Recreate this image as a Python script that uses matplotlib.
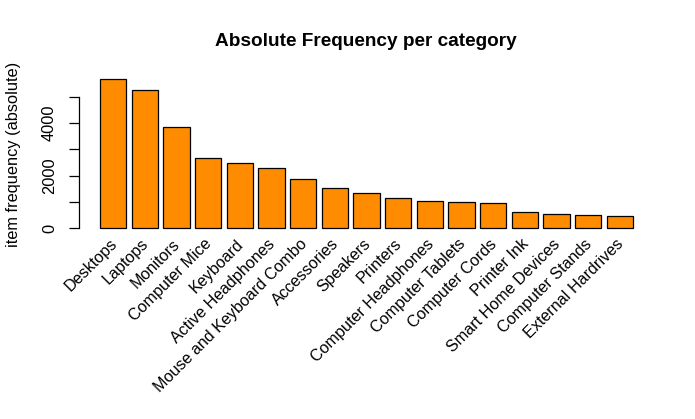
import matplotlib
matplotlib.use("Agg")
import matplotlib.pyplot as plt

categories = ["Desktops", "Laptops", "Monitors", "Computer Mice", "Keyboard",
              "Active Headphones", "Mouse and Keyboard Combo", "Accessories",
              "Speakers", "Printers", "Computer Headphones", "Computer Tablets",
              "Computer Cords", "Printer Ink", "Smart Home Devices",
              "Computer Stands", "External Hardrives"]
values = [5685, 5254, 3858, 2690, 2500, 2284, 1865, 1530, 1332, 1142,
          1041, 1015, 964, 622, 533, 495, 457]
ytick_values = [0, 1000, 2000, 3000, 4000, 5000]
ytick_labels = ["0", "", "2000", "", "4000", ""]

plt.rcParams['font.family'] = ['Liberation Sans', 'DejaVu Sans']

W, H = 695, 419
fig = plt.figure(figsize=(W / 100, H / 100), dpi=100)
left, right, top, bottom = 78.7, 654.3, 72.7, 235.8
ax = fig.add_axes([left / W, 1 - bottom / H, (right - left) / W, (bottom - top) / H])

n = len(values)
width, space = 1.0, 0.2
xs = [space + i * (width + space) + width / 2 for i in range(n)]
ax.bar(xs, values, width=width, color="#FF8C00", edgecolor="black", linewidth=0.9)

span_lo, span_hi = space, n * (width + space)
ext = 0.04 * (span_hi - span_lo)
ax.set_xlim(span_lo - ext, span_hi + ext)
ymin_raw, ymax_raw = -0.01 * max(values), max(values)
yext = 0.04 * (ymax_raw - ymin_raw)
ax.set_ylim(ymin_raw - yext, ymax_raw + yext)

for s in ["top", "right", "bottom"]:
    ax.spines[s].set_visible(False)
ax.spines["left"].set_bounds(0, 5000)
ax.spines["left"].set_linewidth(0.9)
ax.set_yticks(ytick_values)
ax.set_yticklabels(ytick_labels, rotation=90, va="center", fontsize=11.8)
ax.tick_params(axis="y", length=7.2, width=0.9, pad=8.4)

ax.set_xticks([])
for x, lab in zip(xs, categories):
    ax.text(x + 0.05, -0.035, lab, transform=ax.get_xaxis_transform(), rotation=45,
            ha="right", va="center", rotation_mode="anchor", fontsize=11.6)

fig.text(366 / W, 1 - 42 / H, "Absolute Frequency per category", ha="center",
         va="center", fontsize=13.7, fontweight="bold")
fig.text(14 / W, 1 - 154 / H, "item frequency (absolute)", ha="center", va="center",
         rotation=90, fontsize=11.8)

fig.savefig("out.png", dpi=100)
